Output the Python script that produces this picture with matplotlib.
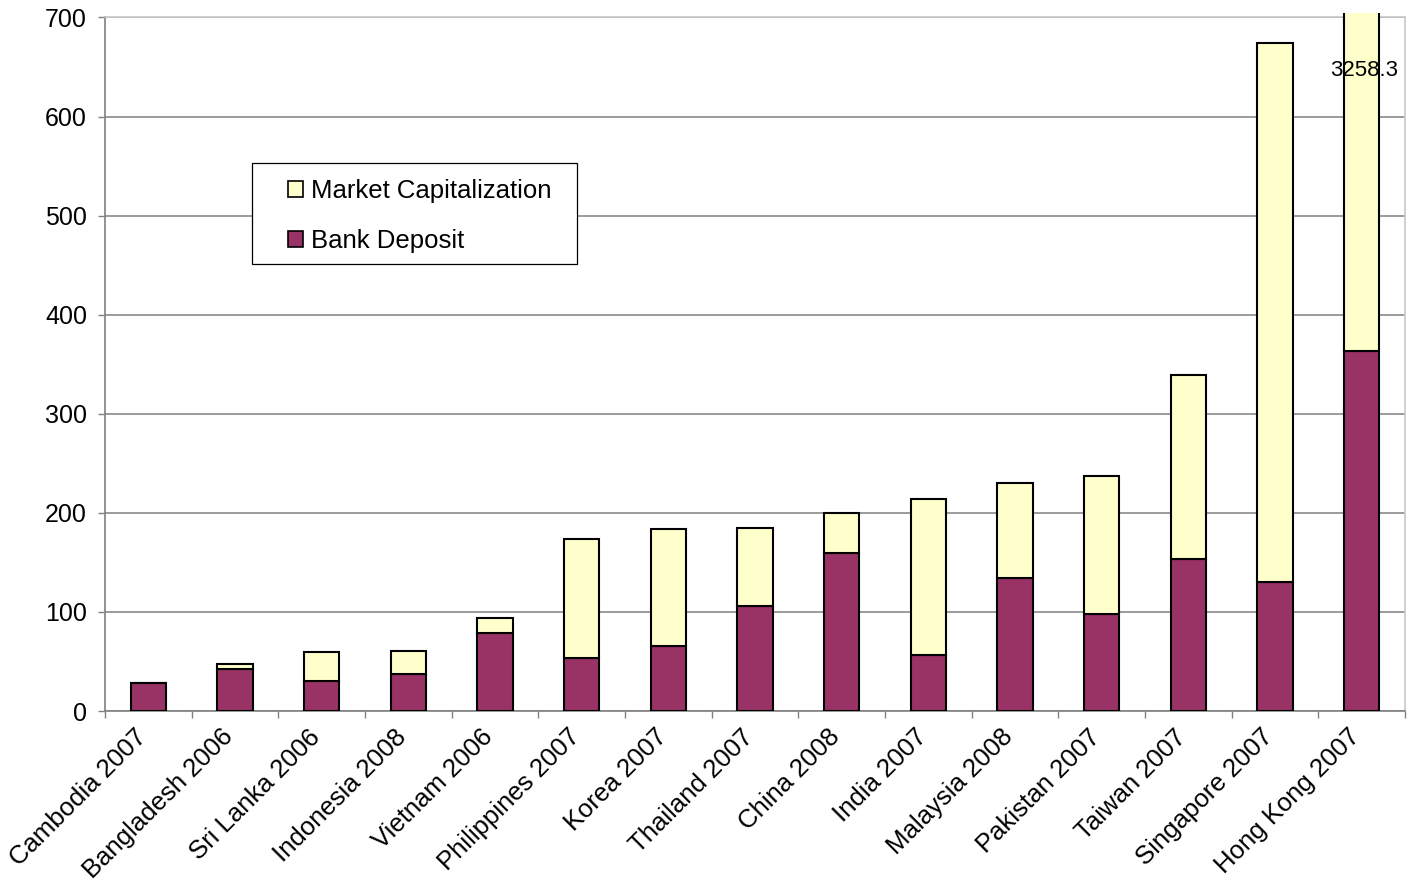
import matplotlib
matplotlib.use("Agg")
import matplotlib.pyplot as plt
from matplotlib.patches import Rectangle
from matplotlib.transforms import ScaledTranslation
import numpy as np

plt.rcParams['font.family'] = ['Liberation Sans', 'DejaVu Sans']

categories = ["Cambodia 2007", "Bangladesh 2006", "Sri Lanka 2006", "Indonesia 2008",
              "Vietnam 2006", "Philippines 2007", "Korea 2007", "Thailand 2007",
              "China 2008", "India 2007", "Malaysia 2008", "Pakistan 2007",
              "Taiwan 2007", "Singapore 2007", "Hong Kong 2007"]
bank_deposit = [28, 42, 30, 37, 79, 54, 66, 106, 159, 57, 134, 98, 153, 130, 363]
market_cap = [0, 5, 30, 24, 15, 120, 118, 79, 41, 157, 96, 139, 186, 544, 3258.3]
y_ticks = [0, 100, 200, 300, 400, 500, 600, 700]
hk_label = "3258.3"

W, H = 1418, 888
fig = plt.figure(figsize=(W / 100, H / 100), dpi=100)
ax = fig.add_axes([105 / W, 1 - 711 / H, 1300 / W, (711 - 17.5) / H])

x = np.arange(len(categories))
deposit_color = "#993366"
cap_color = "#FFFFCC"
fs = 18

bars_dep = ax.bar(x, bank_deposit, width=0.41, color=deposit_color,
                  edgecolor="black", linewidth=1.5, zorder=3, label="Bank Deposit")
bars_cap = ax.bar(x, market_cap, width=0.41, bottom=bank_deposit, color=cap_color,
                  edgecolor="black", linewidth=1.5, zorder=3, label="Market Capitalization")

# let bars run a few pixels past the top of the plot area
clip = Rectangle((0, 0), 1, 1.006, transform=ax.transAxes, facecolor="none")
for b in list(bars_dep) + list(bars_cap):
    b.set_clip_path(clip)

ax.set_xlim(-0.5, len(categories) - 0.5)
ax.set_ylim(0, 700)
ax.set_yticks(y_ticks)
ax.set_yticklabels([str(v) for v in y_ticks])
ax.yaxis.grid(True, color="#808080", linewidth=1.1, zorder=0)
ax.set_axisbelow(True)

# category labels at centres, tick marks at boundaries
ax.set_xticks(x)
ax.set_xticklabels(categories, rotation=45, ha="right", va="center",
                   rotation_mode="anchor", fontsize=18.5)
ax.set_xticks(np.arange(len(categories) + 1) - 0.5, minor=True)
ax.tick_params(axis="x", which="major", length=0, pad=16)
ax.tick_params(axis="x", which="minor", length=5, width=1, color="#808080", direction="out")
ax.tick_params(axis="y", length=5, width=1, color="#808080", labelsize=fs, pad=8)
shift = ScaledTranslation(-4 / 72, 0, fig.dpi_scale_trans)
for lbl in ax.get_xticklabels():
    lbl.set_transform(lbl.get_transform() + shift)

for side in ("left", "bottom"):
    ax.spines[side].set_color("#808080")
    ax.spines[side].set_linewidth(1.2)
for side in ("top", "right"):
    ax.spines[side].set_color("#c8c8c8")
    ax.spines[side].set_linewidth(1.2)

ax.text(x[-1] + 0.03, 647, hk_label, ha="center", va="center", fontsize=16, zorder=5)

# legend: entries without frame, box drawn separately
handles = [bars_cap, bars_dep]
leg = fig.legend(handles, ["Market Capitalization", "Bank Deposit"],
                 loc="upper left", bbox_to_anchor=(288 / W, 1 - 179 / H),
                 bbox_transform=fig.transFigure, borderaxespad=0, borderpad=0,
                 fontsize=18.5, frameon=False,
                 handlelength=0.58, handleheight=0.58, handletextpad=0.3,
                 labelspacing=1.0)
for h in leg.legend_handles:
    h.set_linewidth(1.2)
fig.patches.append(Rectangle((252 / W, 1 - 264 / H), (577 - 252) / W, (264 - 163) / H,
                             transform=fig.transFigure, facecolor="white",
                             edgecolor="black", linewidth=0.9, zorder=4))
leg.set_zorder(5)

fig.savefig("out.png", dpi=100)
